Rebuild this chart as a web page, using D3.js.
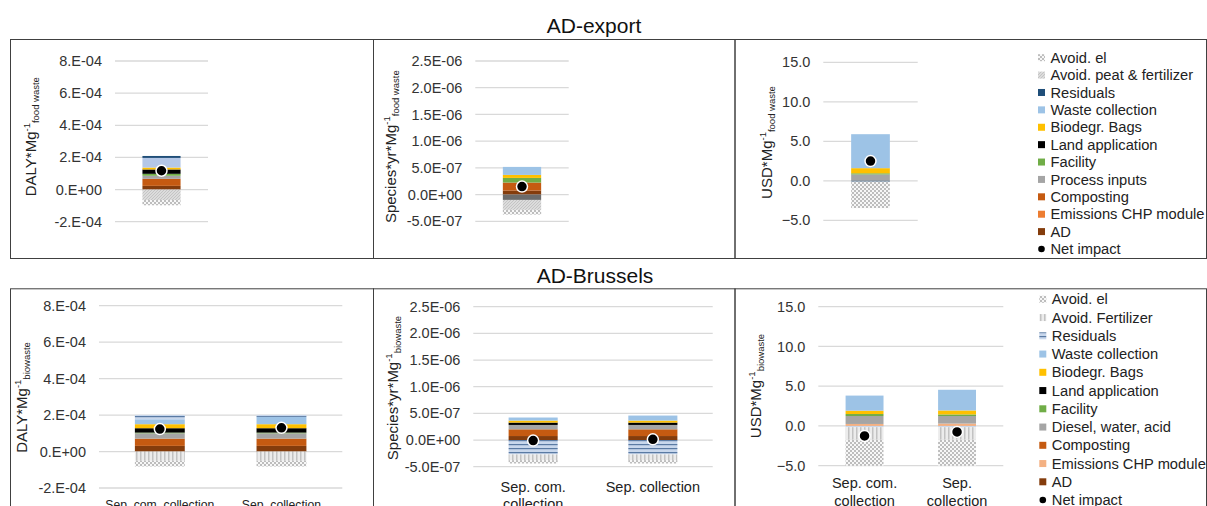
<!DOCTYPE html>
<html>
<head>
<meta charset="utf-8">
<script src="https://cdn.jsdelivr.net/npm/d3@7"></script>
<style>
  body { margin: 0; background: #fff; }
  text { font-family: "Liberation Sans", Arial, sans-serif; }
</style>
</head>
<body>
<div id="chart"></div>
<script>
// series in Excel stacking order (first = bottom of the stack)
const seriesKeys = ["AD", "CHP", "Composting", "Process", "Facility", "Land", "Bags", "Waste", "Residuals", "AvoidFert", "AvoidEl"];

// legend labels, same order as seriesKeys (legend shows them reversed)
const exportLabels = ["AD", "Emissions CHP module", "Composting", "Process inputs", "Facility", "Land application", "Biodegr. Bags", "Waste collection", "Residuals", "Avoid. peat & fertilizer", "Avoid. el"];
const brusselsLabels = ["AD", "Emissions CHP module", "Composting", "Diesel, water, acid", "Facility", "Land application", "Biodegr. Bags", "Waste collection", "Residuals", "Avoid. Fertilizer", "Avoid. el"];

const exportCategories = [""];
const brusselsCategories = ["Sep. com. collection", "Sep. collection"];

// values per category, in seriesKeys order
const exportDaly = [[2.3e-5, 0, 4.4e-5, 1.9e-5, 1.2e-5, 2.7e-5, 1.2e-5, 6.0e-5, 1.2e-5, -6.5e-5, -3.3e-5]];
const exportSpecies = [[7.5e-8, 0, 1.5e-7, -1.0e-7, 8.7e-8, 0, 5.6e-8, 1.5e-7, 0, -1.87e-7, -8.7e-8]];
const exportUsd = [[0, 0, 0, 0.8, 0.15, 0, 0.65, 4.3, -0.1, 0, -3.35]];

const brusselsDaly = [
  [3.1e-5, 0, 4.0e-5, 2.9e-5, 0.4e-5, 2.4e-5, 2.2e-5, 2.7e-5, 2.4e-5, -5.1e-5, -3.1e-5],
  [3.1e-5, 0, 4.0e-5, 2.9e-5, 0.4e-5, 2.4e-5, 2.2e-5, 4.0e-5, 1.1e-5, -5.1e-5, -3.1e-5]
];
const brusselsSpecies = [
  [7.5e-8, 0, 1.26e-7, 8.2e-8, 0, 4.4e-8, 3.8e-8, 5.7e-8, -2.7e-7, -1.07e-7, -6.3e-8],
  [7.5e-8, 0, 1.26e-7, 8.2e-8, 0, 4.4e-8, 3.8e-8, 9.4e-8, -2.7e-7, -1.07e-7, -6.3e-8]
];
const brusselsUsd = [
  [0, 0.25, 0, 1.0, 0.25, 0, 0.42, 1.9, -0.15, -1.6, -3.3],
  [0, 0.3, 0, 0.95, 0.2, 0, 0.5, 2.6, -0.15, -1.6, -3.5]
];

// net impact markers
const exportDalyNet = [1.17e-4];
const exportSpeciesNet = [1.5e-7];
const exportUsdNet = [2.5];
const brusselsDalyNet = [1.23e-4, 1.3e-4];
const brusselsSpeciesNet = [-1e-8, 1.3e-8];
const brusselsUsdNet = [-1.26, -0.75];

// axis ticks
const dalyTicks = [-2e-4, 0, 2e-4, 4e-4, 6e-4, 8e-4];
const speciesTicks = [-5e-7, 0, 5e-7, 1e-6, 1.5e-6, 2e-6, 2.5e-6];
const usdTicks = [-5, 0, 5, 10, 15];

// Excel style "0.E+00" / "0.0E+00"
function sci(v, digits) {
  let [m, e] = v.toExponential(digits).split("e");
  if (digits === 0) m += ".";
  const n = +e;
  return m + "E" + (n < 0 ? "-" : "+") + String(Math.abs(n)).padStart(2, "0");
}

const exportFills = {
  AD: "#843C0C", CHP: "#ED7D31", Composting: "#C55A11", Process: "#A5A5A5",
  Facility: "#70AD47", Land: "#000000", Bags: "#FFC000", Waste: "#9DC3E6",
  Residuals: "#1F4E79", AvoidFert: "url(#pPeat)", AvoidEl: "url(#pEl)"
};
const brusselsFills = Object.assign({}, exportFills, {
  CHP: "#F4B183", Residuals: "url(#pResid)", AvoidFert: "url(#pFert)"
});

const rows = [
  { title: "AD-export", titleX: 594, titleY: 33.3, top: 39, bottom: 258,
    labels: exportLabels, fills: exportFills,
    legendX: 1038, legendY: 57.7, legendStep: 17.39 },
  { title: "AD-Brussels", titleX: 595, titleY: 283.3, top: 288.3, bottom: 530,
    labels: brusselsLabels, fills: brusselsFills,
    legendX: 1039.3, legendY: 299.3, legendStep: 18.25 }
];
const frameXs = [10, 373, 734.5, 1206];

const panels = [
  { row: 0, cats: exportCategories, values: exportDaly, net: exportDalyNet, ticks: dalyTicks,
    fmt: v => sci(v, 0), x0: 115, x1: 208, y0: 61, y1: 221.7,
    unit: "DALY*Mg", sub: "food waste", axX: 36, axY: 136.7, override: { Waste: "#B4C7E7" } },
  { row: 0, cats: exportCategories, values: exportSpecies, net: exportSpeciesNet, ticks: speciesTicks,
    fmt: v => sci(v, 1), x0: 475.3, x1: 568.7, y0: 61, y1: 221.3,
    unit: "Species*yr*Mg", sub: "food waste", axX: 395.7, axY: 146.7, override: { Process: "#6B6B6B" } },
  { row: 0, cats: exportCategories, values: exportUsd, net: exportUsdNet, ticks: usdTicks,
    fmt: d3.format(".1f"), x0: 823.3, x1: 917.7, y0: 62.3, y1: 220.3,
    unit: "USD*Mg", sub: "food waste", axX: 772.4, axY: 142.5, override: {} },
  { row: 1, cats: brusselsCategories, values: brusselsDaly, net: brusselsDalyNet, ticks: dalyTicks,
    fmt: v => sci(v, 0), x0: 99, x1: 342.3, y0: 305.7, y1: 488,
    unit: "DALY*Mg", sub: "biowaste", axX: 27.4, axY: 397.5, override: {},
    catSize: 12.2, wrap: 200, catY: 509 },
  { row: 1, cats: brusselsCategories, values: brusselsSpecies, net: brusselsSpeciesNet, ticks: speciesTicks,
    fmt: v => sci(v, 1), x0: 473.3, x1: 712.7, y0: 306.7, y1: 466.7,
    unit: "Species*yr*Mg", sub: "biowaste", axX: 398, axY: 388, override: {},
    catSize: 14.5, wrap: 100, catY: 491.7 },
  { row: 1, cats: brusselsCategories, values: brusselsUsd, net: brusselsUsdNet, ticks: usdTicks,
    fmt: d3.format(".1f"), x0: 818.3, x1: 1003.3, y0: 306.7, y1: 465.7,
    unit: "USD*Mg", sub: "biowaste", axX: 761.4, axY: 386, override: {},
    catSize: 14.5, wrap: 80, catY: 488.3 }
];

const width = 1207, height = 506;
const svg = d3.select("#chart").append("svg")
  .attr("width", width).attr("height", height);

// fill patterns
const defs = svg.append("defs");
function pattern(id, w, h) {
  return defs.append("pattern").attr("id", id)
    .attr("patternUnits", "userSpaceOnUse").attr("width", w).attr("height", h);
}
let p = pattern("pEl", 4, 4);
p.append("rect").attr("width", 4).attr("height", 4).attr("fill", "#f7f7f7");
p.append("rect").attr("width", 2).attr("height", 2).attr("fill", "#bdbdbd");
p.append("rect").attr("x", 2).attr("y", 2).attr("width", 2).attr("height", 2).attr("fill", "#bdbdbd");
p = pattern("pPeat", 3, 3);
p.append("rect").attr("width", 3).attr("height", 3).attr("fill", "#dcdcdc");
p.append("path").attr("d", "M0,3L3,0").attr("stroke", "#c4c4c4").attr("stroke-width", 1);
p = pattern("pFert", 4, 4);
p.append("rect").attr("width", 4).attr("height", 4).attr("fill", "#ececec");
p.append("rect").attr("width", 1.5).attr("height", 4).attr("fill", "#c2c2c2");
p = pattern("pResid", 4, 4);
p.append("rect").attr("width", 4).attr("height", 4).attr("fill", "#c8d7ec");
p.append("rect").attr("width", 4).attr("height", 1.2).attr("fill", "#5a7aa3");

// frames and row titles
rows.forEach(row => {
  for (let i = 0; i < 3; i++) {
    svg.append("rect")
      .attr("x", frameXs[i] + 0.5).attr("y", row.top + 0.5)
      .attr("width", frameXs[i + 1] - frameXs[i]).attr("height", row.bottom - row.top)
      .attr("fill", "none").attr("stroke", "#404040").attr("stroke-width", 1);
  }
  svg.append("text")
    .attr("x", row.titleX).attr("y", row.titleY)
    .attr("text-anchor", "middle").attr("font-size", 21).attr("fill", "#111")
    .text(row.title);
});

const stack = d3.stack().keys(seriesKeys).offset(d3.stackOffsetDiverging);

panels.forEach((pn, pi) => {
  const row = rows[pn.row];
  const g = svg.append("g");

  const y = d3.scaleLinear()
    .domain([pn.ticks[0], pn.ticks[pn.ticks.length - 1]])
    .range([pn.y1, pn.y0]);
  const x = d3.scaleBand().domain(pn.cats)
    .range([pn.x0, pn.x1]).paddingInner(0.59).paddingOuter(0.295);

  // gridlines + tick labels
  g.selectAll("line.grid").data(pn.ticks).enter().append("line")
    .attr("class", "grid")
    .attr("x1", pn.x0).attr("x2", pn.x1)
    .attr("y1", d => y(d)).attr("y2", d => y(d))
    .attr("stroke", "#d9d9d9").attr("stroke-width", 1.3);
  g.selectAll("text.tick").data(pn.ticks).enter().append("text")
    .attr("class", "tick")
    .attr("x", pn.x0 - 13).attr("y", d => y(d)).attr("dy", "0.35em")
    .attr("text-anchor", "end").attr("font-size", 14.5).attr("fill", "#333")
    .text(pn.fmt);

  // stacked bars
  const table = pn.cats.map((c, ci) => {
    const o = { cat: c };
    seriesKeys.forEach((k, ki) => { o[k] = pn.values[ci][ki]; });
    return o;
  });
  const clipId = "clip" + pi;
  defs.append("clipPath").attr("id", clipId).append("rect")
    .attr("x", pn.x0).attr("y", pn.y0 - 5)
    .attr("width", pn.x1 - pn.x0).attr("height", pn.y1 - pn.y0 + 5);

  const bars = g.append("g").attr("clip-path", `url(#${clipId})`);
  stack(table).forEach(layer => {
    const fill = pn.override[layer.key] || row.fills[layer.key];
    bars.selectAll(null).data(layer).enter().append("rect")
      .attr("x", d => x(d.data.cat))
      .attr("width", x.bandwidth())
      .attr("y", d => y(Math.max(d[0], d[1])))
      .attr("height", d => Math.abs(y(d[0]) - y(d[1])))
      .attr("fill", fill);
  });

  // net impact
  g.selectAll("circle.net").data(pn.net).enter().append("circle")
    .attr("class", "net")
    .attr("cx", (d, i) => x(pn.cats[i]) + x.bandwidth() / 2)
    .attr("cy", d => y(d))
    .attr("r", 5.5)
    .attr("fill", "#000").attr("stroke", "#fff").attr("stroke-width", 1.5);

  // category labels (wrapped like Excel)
  pn.cats.forEach(c => {
    if (!c) return;
    const t = g.append("text")
      .attr("text-anchor", "middle").attr("font-size", pn.catSize).attr("fill", "#222")
      .attr("y", pn.catY);
    const cx = x(c) + x.bandwidth() / 2;
    const words = c.split(" ");
    let lines = [], line = [];
    words.forEach(w => {
      const tryLine = line.concat(w).join(" ");
      t.text(tryLine);
      if (line.length && t.node().getComputedTextLength() > pn.wrap) {
        lines.push(line.join(" "));
        line = [w];
      } else line.push(w);
    });
    lines.push(line.join(" "));
    t.text(null);
    lines.forEach((l, li) => {
      t.append("tspan").attr("x", cx).attr("dy", li ? "1.2em" : 0).text(l);
    });
  });

  // axis title with superscript / subscript
  const at = g.append("text")
    .attr("transform", `translate(${pn.axX},${pn.axY}) rotate(-90)`)
    .attr("text-anchor", "middle").attr("font-size", 15).attr("fill", "#222");
  at.append("tspan").text(pn.unit);
  at.append("tspan").attr("font-size", 9.5).attr("dy", -6).text("-1");
  at.append("tspan").attr("font-size", 9.5).attr("dy", 9).text(pn.sub);
});

// legends
rows.forEach(row => {
  const items = seriesKeys.map((k, i) => ({ label: row.labels[i], fill: row.fills[k] })).reverse();
  items.push({ label: "Net impact", dot: true });
  const lg = svg.append("g");
  items.forEach((it, i) => {
    const cy = row.legendY + i * row.legendStep;
    if (it.dot) {
      lg.append("circle").attr("cx", row.legendX + 3.5).attr("cy", cy).attr("r", 3.3).attr("fill", "#000");
    } else {
      lg.append("rect").attr("x", row.legendX).attr("y", cy - 3.5)
        .attr("width", 7).attr("height", 7).attr("fill", it.fill);
    }
    lg.append("text").attr("x", row.legendX + 12.5).attr("y", cy).attr("dy", "0.35em")
      .attr("font-size", 14.7).attr("fill", "#222").text(it.label);
  });
});
</script>
</body>
</html>
